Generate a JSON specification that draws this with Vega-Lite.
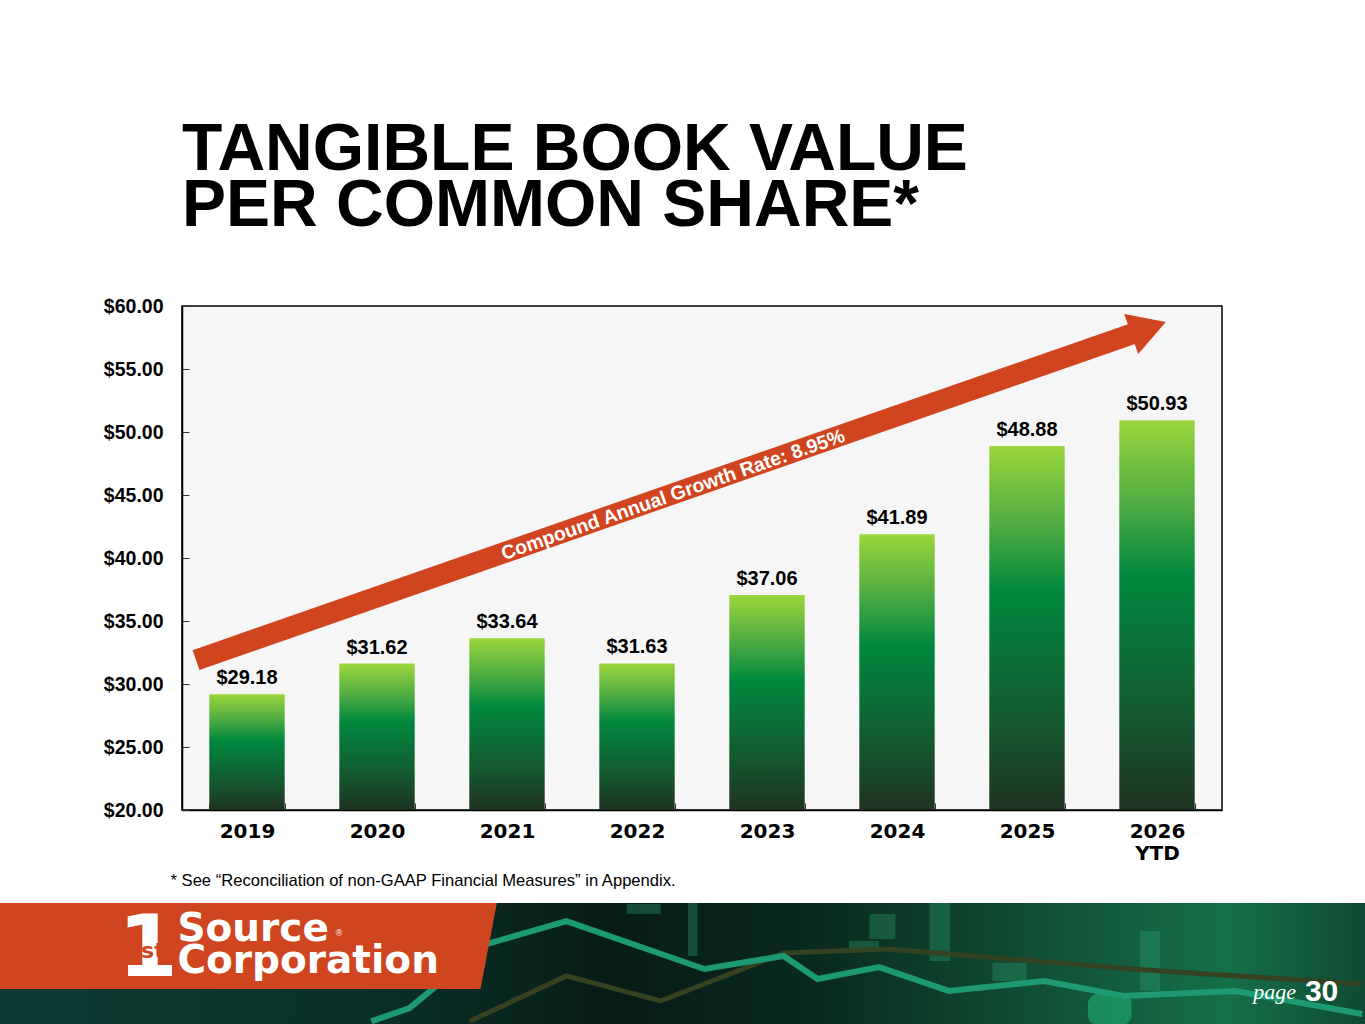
{
  "$schema": "https://vega.github.io/schema/vega-lite/v6.json",
  "background": "white",
  "padding": {"left": 0, "top": 116, "right": 0, "bottom": 0},
  "width": 1040,
  "height": 504,
  "config": {"font": "Liberation Sans", "axis": {"grid": false}},
  "title": {
    "text": ["TANGIBLE BOOK VALUE", "PER COMMON SHARE*"],
    "anchor": "start",
    "frame": "group",
    "fontSize": 66,
    "fontWeight": "bold",
    "color": "black",
    "lineHeight": 56,
    "offset": 50
  },
  "view": {"fill": "#f6f6f6", "stroke": "black", "strokeWidth": 1.5},
  "resolve": {"scale": {"x": "independent", "y": "independent"}},
  "layer": [
    {
      "data": {
        "values": [
          {"year": "2019", "value": 29.18},
          {"year": "2020", "value": 31.62},
          {"year": "2021", "value": 33.64},
          {"year": "2022", "value": 31.63},
          {"year": "2023", "value": 37.06},
          {"year": "2024", "value": 41.89},
          {"year": "2025", "value": 48.88},
          {"year": "2026 YTD", "value": 50.93}
        ]
      },
      "layer": [
        {
          "mark": {
            "type": "bar",
            "color": {
              "gradient": "linear",
              "x1": 0, "y1": 0, "x2": 0, "y2": 1,
              "stops": [
                {"offset": 0, "color": "#9bd63c"},
                {"offset": 0.22, "color": "#4dab42"},
                {"offset": 0.4, "color": "#00883d"},
                {"offset": 0.75, "color": "#145a2f"},
                {"offset": 1, "color": "#1e3320"}
              ]
            }
          },
          "encoding": {
            "x": {
              "field": "year",
              "type": "nominal",
              "sort": null,
              "scale": {"paddingInner": 0.42, "paddingOuter": 0.21},
              "axis": {
                "title": "* See \u201cReconciliation of non-GAAP Financial Measures\u201d in Appendix.",
                "titleFontSize": 16.6,
                "titleFontWeight": "normal",
                "titleColor": "black",
                "titleAnchor": "start",
                "titleAlign": "left",
                "titleBaseline": "alphabetic",
                "titleX": -12,
                "titleY": 75,
                "labelExpr": "split(datum.label, ' ')",
                "labelAngle": 0,
                "labelFont": "DejaVu Sans",
                "labelFontSize": 20,
                "labelFontWeight": "bold",
                "labelColor": "black",
                "labelLineHeight": 22,
                "labelPadding": 18,
                "tickBand": "extent",
                "tickSize": -7,
                "tickColor": "#333",
                "domainColor": "black",
                "domainWidth": 1.5
              }
            },
            "y": {
              "field": "value",
              "type": "quantitative",
              "scale": {"domain": [20, 60], "nice": false, "zero": false},
              "axis": {
                "title": null,
                "values": [20, 25, 30, 35, 40, 45, 50, 55, 60],
                "format": "$.2f",
                "labelFontSize": 19.5,
                "labelFontWeight": "bold",
                "labelColor": "black",
                "labelPadding": 26,
                "tickSize": -7,
                "tickColor": "#333",
                "domainColor": "black",
                "domainWidth": 1.5,
                "minExtent": 182,
                "maxExtent": 182
              }
            },
            "y2": {"datum": 20}
          }
        },
        {
          "mark": {"type": "text", "fontSize": 20, "fontWeight": "bold", "baseline": "alphabetic", "dy": -10, "color": "black"},
          "encoding": {
            "x": {"field": "year", "type": "nominal", "sort": null},
            "y": {"field": "value", "type": "quantitative"},
            "text": {"field": "value", "type": "quantitative", "format": "$.2f"}
          }
        }
      ]
    },
    {
      "data": {"values": [{"pos": 0.108, "level": 31.9}, {"pos": 7.354, "level": 57.95}]},
      "mark": {"type": "line", "color": "#d0451f", "strokeWidth": 21, "strokeCap": "butt"},
      "encoding": {
        "x": {"field": "pos", "type": "quantitative", "scale": {"domain": [0, 8], "nice": false, "zero": false}, "axis": null},
        "y": {"field": "level", "type": "quantitative", "scale": {"domain": [20, 60], "nice": false, "zero": false}, "axis": null}
      }
    },
    {
      "data": {"values": [{"pos": 7.435, "level": 58.25}]},
      "mark": {"type": "point", "shape": "triangle-right", "angle": -19.2, "size": 1800, "filled": true, "opacity": 1, "color": "#d0451f"},
      "encoding": {
        "x": {"field": "pos", "type": "quantitative", "scale": {"domain": [0, 8], "nice": false, "zero": false}, "axis": null},
        "y": {"field": "level", "type": "quantitative", "scale": {"domain": [20, 60], "nice": false, "zero": false}, "axis": null}
      }
    },
    {
      "data": {"values": [{"pos": 3.777, "level": 45.0, "label": "Compound Annual Growth Rate: 8.95%"}]},
      "mark": {"type": "text", "angle": -19.2, "fontSize": 19.5, "fontWeight": "bold", "color": "white", "align": "center", "baseline": "middle"},
      "encoding": {
        "x": {"field": "pos", "type": "quantitative", "scale": {"domain": [0, 8], "nice": false, "zero": false}, "axis": null},
        "y": {"field": "level", "type": "quantitative", "scale": {"domain": [20, 60], "nice": false, "zero": false}, "axis": null},
        "text": {"field": "label"}
      }
    },
    {
      "layer": [
        {
          "data": {"values": [{"x0": 0, "x1": 100, "y0": 0, "y1": 100}]},
          "mark": {
            "type": "rect",
            "color": {
              "gradient": "linear",
              "x1": 0, "y1": 0, "x2": 1, "y2": 0,
              "stops": [
                {"offset": 0, "color": "#0b3a33"},
                {"offset": 0.3, "color": "#0a2e26"},
                {"offset": 0.45, "color": "#061c15"},
                {"offset": 0.6, "color": "#0a2a1e"},
                {"offset": 0.8, "color": "#11583b"},
                {"offset": 0.9, "color": "#167048"},
                {"offset": 1, "color": "#0e4a33"}
              ]
            }
          },
          "encoding": {
            "x": {"field": "x0", "type": "quantitative", "scale": {"domain": [0, 100], "range": [-182, 1183], "nice": false, "zero": false}, "axis": null},
            "x2": {"field": "x1"},
            "y": {"field": "y0", "type": "quantitative", "scale": {"domain": [0, 100], "range": [597, 719], "nice": false, "zero": false}, "axis": null},
            "y2": {"field": "y1"}
          }
        },
        {
          "data": {
            "values": [
              {"x0": 45.9, "x1": 48.4, "y0": 0.8, "y1": 9},
              {"x0": 50.4, "x1": 51.1, "y0": 0, "y1": 43.4},
              {"x0": 63.7, "x1": 65.6, "y0": 9, "y1": 29.5},
              {"x0": 62.2, "x1": 64.4, "y0": 31.1, "y1": 36.9},
              {"x0": 72.7, "x1": 75.2, "y0": 49, "y1": 64},
              {"x0": 83.5, "x1": 85, "y0": 23, "y1": 72},
              {"x0": 68.1, "x1": 69.6, "y0": 0, "y1": 47.5}
            ]
          },
          "mark": {"type": "rect", "color": "#2fa074", "opacity": 0.35},
          "encoding": {
            "x": {"field": "x0", "type": "quantitative"},
            "x2": {"field": "x1"},
            "y": {"field": "y0", "type": "quantitative"},
            "y2": {"field": "y1"}
          }
        },
        {
          "data": {"values": [{"x0": 79.7, "x1": 82.9, "y0": 74.6, "y1": 100}]},
          "mark": {"type": "rect", "color": "#1fae72", "opacity": 0.6, "cornerRadius": 10},
          "encoding": {
            "x": {"field": "x0", "type": "quantitative"},
            "x2": {"field": "x1"},
            "y": {"field": "y0", "type": "quantitative"},
            "y2": {"field": "y1"}
          }
        },
        {
          "data": {
            "values": [
              {"fx": 34.4, "fy": 97}, {"fx": 41.5, "fy": 59.8}, {"fx": 48.4, "fy": 80.3},
              {"fx": 57.4, "fy": 41}, {"fx": 65.1, "fy": 37.7}, {"fx": 82.9, "fy": 54.1}, {"fx": 99.8, "fy": 66.4}
            ]
          },
          "mark": {"type": "line", "color": "#34421f", "strokeWidth": 5},
          "encoding": {
            "x": {"field": "fx", "type": "quantitative"},
            "y": {"field": "fy", "type": "quantitative"}
          }
        },
        {
          "data": {
            "values": [
              {"fx": 27.2, "fy": 97}, {"fx": 30.0, "fy": 86.1}, {"fx": 35.7, "fy": 33.6},
              {"fx": 41.5, "fy": 14.8}, {"fx": 51.6, "fy": 54.1}, {"fx": 57.4, "fy": 43.4},
              {"fx": 59.9, "fy": 62.3}, {"fx": 64.4, "fy": 52.5}, {"fx": 69.5, "fy": 72.1},
              {"fx": 76.5, "fy": 63.9}, {"fx": 82.3, "fy": 76.2}, {"fx": 90.5, "fy": 72.1},
              {"fx": 99.8, "fy": 91}
            ]
          },
          "mark": {"type": "line", "color": "#1e9a72", "strokeWidth": 6},
          "encoding": {
            "x": {"field": "fx", "type": "quantitative"},
            "y": {"field": "fy", "type": "quantitative"}
          }
        },
        {
          "data": {"values": [{"fy": 0, "fx": 36.4}, {"fy": 70.5, "fx": 35.2}]},
          "mark": {"type": "area", "orient": "horizontal", "color": "#cf4520"},
          "encoding": {
            "y": {"field": "fy", "type": "quantitative"},
            "x": {"field": "fx", "type": "quantitative"},
            "x2": {"datum": 0}
          }
        },
        {
          "data": {"values": [{"label": "1", "fx": 10.84, "fy": 59.8}]},
          "mark": {"type": "text", "font": "DejaVu Sans", "fontSize": 86, "fontWeight": "bold", "color": "white", "align": "center", "baseline": "alphabetic"},
          "encoding": {
            "x": {"field": "fx", "type": "quantitative"},
            "y": {"field": "fy", "type": "quantitative"},
            "text": {"field": "label"}
          }
        },
        {
          "data": {"values": [{"label": "st", "fx": 11.2, "fy": 45}]},
          "mark": {"type": "text", "font": "DejaVu Sans", "fontSize": 22, "fontWeight": "bold", "color": "#cf4520", "align": "center", "baseline": "alphabetic"},
          "encoding": {
            "x": {"field": "fx", "type": "quantitative"},
            "y": {"field": "fy", "type": "quantitative"},
            "text": {"field": "label"}
          }
        },
        {
          "data": {"values": [{"label": "Source", "fx": 13, "fy": 31.1}, {"label": "Corporation", "fx": 13, "fy": 57.4}]},
          "mark": {"type": "text", "font": "DejaVu Sans", "fontSize": 39, "fontWeight": "bold", "color": "white", "align": "left", "baseline": "alphabetic"},
          "encoding": {
            "x": {"field": "fx", "type": "quantitative"},
            "y": {"field": "fy", "type": "quantitative"},
            "text": {"field": "label"}
          }
        },
        {
          "data": {"values": [{"label": "\u00ae", "fx": 24.6, "fy": 27}]},
          "mark": {"type": "text", "fontSize": 9, "color": "white", "align": "left", "baseline": "alphabetic"},
          "encoding": {
            "x": {"field": "fx", "type": "quantitative"},
            "y": {"field": "fy", "type": "quantitative"},
            "text": {"field": "label"}
          }
        },
        {
          "data": {"values": [{"label": "page", "fx": 94.95, "fy": 78.7}]},
          "mark": {"type": "text", "font": "Liberation Serif", "fontStyle": "italic", "fontSize": 22, "color": "white", "align": "right", "baseline": "alphabetic"},
          "encoding": {
            "x": {"field": "fx", "type": "quantitative"},
            "y": {"field": "fy", "type": "quantitative"},
            "text": {"field": "label"}
          }
        },
        {
          "data": {"values": [{"label": "30", "fx": 95.6, "fy": 80.3}]},
          "mark": {"type": "text", "fontSize": 30, "fontWeight": "bold", "color": "white", "align": "left", "baseline": "alphabetic"},
          "encoding": {
            "x": {"field": "fx", "type": "quantitative"},
            "y": {"field": "fy", "type": "quantitative"},
            "text": {"field": "label"}
          }
        }
      ]
    }
  ]
}
